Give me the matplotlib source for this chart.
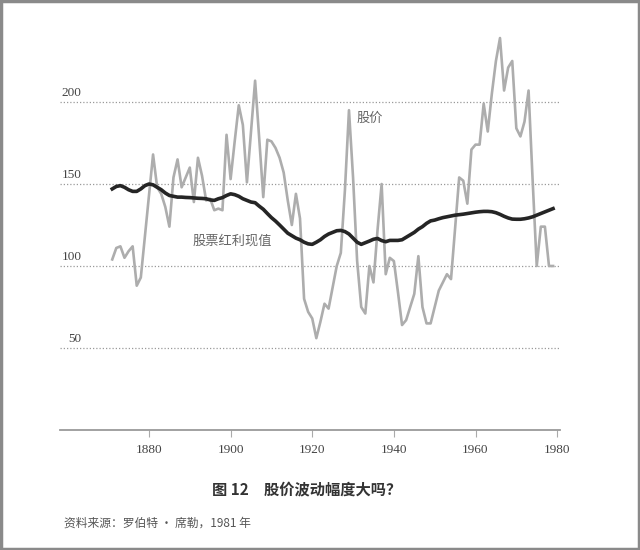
import numpy as np
import matplotlib
matplotlib.use('Agg')
import matplotlib.pyplot as plt
from matplotlib.patches import Rectangle

plt.rcParams['font.family'] = ['Liberation Serif', 'Noto Sans CJK SC', 'DejaVu Sans']

# years 1871-1979, annual values
years = np.arange(1871, 1980)

stock_price = [
    104, 111, 112, 105, 109, 112, 88, 93, 118, 143,      # 1871-1880
    168, 148, 144, 136, 124, 154, 165, 148, 154, 160,    # 1881-1890
    139, 166, 155, 140, 141, 134, 135, 134, 180, 153,    # 1891-1900
    176, 198, 186, 151, 182, 213, 178, 142, 177, 176,    # 1901-1910
    172, 166, 157, 140, 125, 144, 129, 80, 72, 68,       # 1911-1920
    56, 66, 77, 74, 87, 100, 108, 146, 195, 154,         # 1921-1930
    103, 75, 71, 100, 90, 122, 150, 95, 105, 103,        # 1931-1940
    84, 64, 67, 75, 83, 106, 75, 65, 65, 75,             # 1941-1950
    85, 90, 95, 92, 123, 154, 152, 138, 171, 174,        # 1951-1960
    174, 199, 182, 205, 225, 239, 207, 221, 225, 184,    # 1961-1970
    179, 188, 207, 152, 100, 124, 124, 100, 100,         # 1971-1979
]

dividend_pv = [
    147, 148.5, 149, 148, 146.5, 145.5, 145.5, 147, 149, 150,        # 1871-1880
    149.5, 148, 146.5, 144.5, 143, 142.5, 142, 142, 141.8, 141.7,    # 1881-1890
    141.5, 141.3, 141.2, 141, 140.3, 140, 141, 141.7, 143, 144,      # 1891-1900
    143.5, 142.5, 141, 140, 139, 138.6, 136.5, 134.6, 132, 129.5,    # 1901-1910
    127.4, 125, 122.5, 120, 118.5, 117, 116, 114.5, 113.5, 113.2,    # 1911-1920
    114.5, 116, 118, 119.5, 120.5, 121.5, 121.7, 121, 119.5, 117,    # 1921-1930
    114.5, 113.2, 114.2, 115.2, 116.3, 116.8, 115.5, 114.8, 115.6, 115.6,  # 1931-1940
    115.6, 116, 117.5, 119, 120.5, 122.5, 124, 126, 127.5, 128,      # 1941-1950
    128.8, 129.5, 130, 130.5, 131, 131.3, 131.6, 132, 132.4, 132.8,  # 1951-1960
    133.1, 133.3, 133.3, 133.1, 132.5, 131.5, 130.3, 129.3, 128.6, 128.5,  # 1961-1970
    128.5, 128.8, 129.3, 130, 131, 132, 133, 134, 135,              # 1971-1979
]

xticks = [1880, 1900, 1920, 1940, 1960, 1980]
ygrid = [50, 100, 150, 200]

fig = plt.figure(figsize=(6.4, 5.5), dpi=100)
ax = fig.add_axes([60 / 640, 120 / 550, 500 / 640, 410 / 550])

# dotted horizontal guides with their labels sitting on top
for v in ygrid:
    ax.axhline(v, color='#9a9a9a', lw=0.9, ls=(0, (1, 1.6)), zorder=1)
    ax.text(0.043, v + 1.8, str(v), transform=ax.get_yaxis_transform(),
            ha='right', va='bottom', fontsize=9.5, color='#444444')

ax.plot(years, stock_price, color='#adadad', lw=1.9, zorder=2)
ax.plot(years, dividend_pv, color='#252525', lw=2.6, zorder=3)

ax.text(1930.8, 190, '股价', family=['Noto Sans CJK SC'], fontsize=9.5,
        color='#666666', va='center', ha='left')
ax.text(1890.7, 115.2, '股票红利现值', family=['Noto Sans CJK SC'], fontsize=9.5,
        color='#666666', va='center', ha='left')

ax.set_xlim(1858.2, 1980.7)
ax.set_ylim(0, 250)
ax.set_xticks(xticks)
ax.set_yticks([])
for s in ['left', 'right', 'top']:
    ax.spines[s].set_visible(False)
ax.spines['bottom'].set_color('#9a9a9a')
ax.spines['bottom'].set_linewidth(1.3)
ax.tick_params(axis='x', direction='out', length=5, width=0.8, color='#aaaaaa',
               labelsize=9.5, labelcolor='#444444', pad=5)

fig.text(307 / 640, 1 - 489 / 550, '图 12　股价波动幅度大吗？', family=['Noto Sans CJK SC'],
         fontsize=11, fontweight='bold', color='#333333', ha='center', va='center')
fig.text(64 / 640, 1 - 523 / 550, '资料来源：罗伯特 · 席勒，1981 年', family=['Noto Sans CJK SC', 'DejaVu Sans'],
         fontsize=8.5, color='#555555', ha='left', va='center')

# scanned-page frame
fig.patches.append(Rectangle((0.002, 0.002), 0.996, 0.996, transform=fig.transFigure,
                             fill=False, edgecolor='#8a8a8a', lw=2.5))

fig.savefig('out.png', dpi=100)
